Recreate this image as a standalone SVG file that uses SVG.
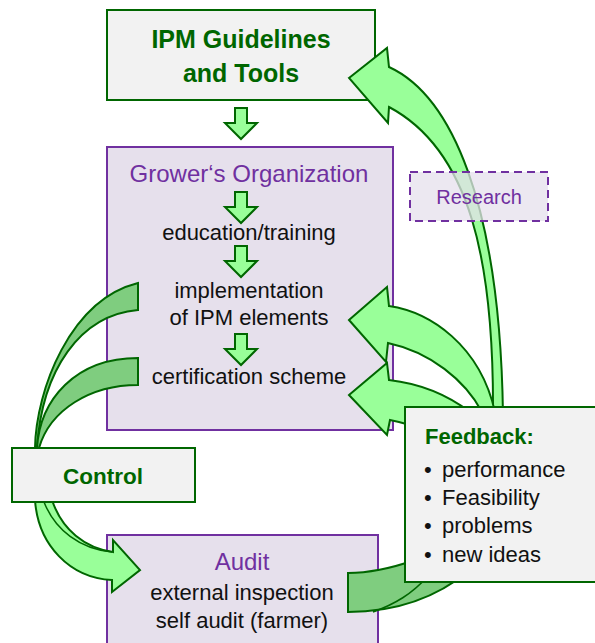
<svg xmlns="http://www.w3.org/2000/svg" width="595" height="643" viewBox="0 0 595 643">
<style>
.gbox{fill:#f2f2f2;stroke:#006600;stroke-width:2}
.pbox{fill:#e6e0ec;stroke:#7030a0;stroke-width:2}
.la{fill:#99ff99;stroke:#006600;stroke-width:2;stroke-linejoin:miter}
.ma{fill:#7fcd7f;stroke:#006600;stroke-width:2}
.ln{fill:none;stroke:#006600;stroke-width:1.5}
text{font-family:"Liberation Sans",Arial,sans-serif}
.gt{fill:#006600;font-weight:bold}
.pt{fill:#7030a0}
.bt{fill:#111;font-size:22px}
</style>
<defs>
<path id="down" class="la" d="M-6,0 H6 V15 H16 L0,31 L-16,15 H-6 Z"/>
</defs>
<g id="growers">
<rect class="pbox" x="107" y="147" width="286" height="283"/>
<text class="pt" x="249" y="182" font-size="24" text-anchor="middle">Grower‘s Organization</text>
<text class="bt" x="249" y="240" text-anchor="middle">education/training</text>
<text class="bt" x="249" y="298" text-anchor="middle">implementation</text>
<text class="bt" x="249" y="325" text-anchor="middle">of IPM elements</text>
<text class="bt" x="249" y="384" text-anchor="middle">certification scheme</text>
</g>
<g id="audit">
<rect class="pbox" x="107" y="535" width="271" height="120"/>
<text class="pt" x="242" y="570" font-size="24" text-anchor="middle">Audit</text>
<text class="bt" x="242" y="600" text-anchor="middle">external inspection</text>
<text class="bt" x="242" y="628" text-anchor="middle">self audit (farmer)</text>
</g>
<g id="ipm">
<rect class="gbox" x="107" y="10" width="268" height="90"/>
<text class="gt" x="241" y="48" font-size="25" text-anchor="middle">IPM Guidelines</text>
<text class="gt" x="241" y="82" font-size="25" text-anchor="middle">and Tools</text>
</g>
<g id="connectors">
<use href="#down" x="241" y="108"/>
<use href="#down" x="241" y="192"/>
<use href="#down" x="241" y="246"/>
<use href="#down" x="241" y="334"/>
<path class="ma" d="M35,448 C36,390 70,300 138,283 L138,310 C80,315 42,370 37,448 Z"/>
<path class="ma" d="M37,448 C40,400 75,358 138,358 L138,385 C90,385 50,410 39,448 Z"/>
<path class="la" d="M349,78 L387,48 L389,67 C450,95 500,200 503,415 L493,415 C494,260 470,150 389,107 L388,123 Z"/>
<path class="la" d="M349,320 L387,287 L389,306 C430,312 480,345 495,412 L482,412 C465,380 430,352 388,343 L386,362 Z"/>
<path class="la" d="M349,395 L387,363 L389,380 C415,383 445,393 470,412 L470,425 L410,425 C400,422 395,421 390,420 L387,435 Z"/>
<path class="la" d="M35,500 C38,545 70,578 112,580 L112,592 L140,570 L113,540 L113,552 C85,548 62,530 52,500 Z"/>
<path class="ln" d="M44,502 C55,530 80,549 112,552"/>
<path class="ma" d="M348,573 C372,573 392,568 415,560 L475,545 L470,570 C440,595 400,612 348,612 Z"/>
<path class="ln" d="M373,612 C395,604 412,594 428,576"/>
</g>
<g id="control">
<rect class="gbox" x="12" y="448" width="183" height="54"/>
<text class="gt" x="103" y="484" font-size="22.5" text-anchor="middle">Control</text>
</g>
<g id="research">
<rect x="410" y="172" width="138" height="49" fill="#e6e0ec" fill-opacity="0.75" stroke="#7030a0" stroke-width="2" stroke-dasharray="8,5"/>
<text class="pt" x="479" y="204" font-size="20" text-anchor="middle">Research</text>
</g>
<g id="feedback">
<rect class="gbox" x="405" y="407" width="200" height="175"/>
<text class="gt" x="425" y="444" font-size="22">Feedback:</text>
<text class="bt" x="424" y="477">•</text>
<text class="bt" x="442" y="477">performance</text>
<text class="bt" x="424" y="505">•</text>
<text class="bt" x="442" y="505">Feasibility</text>
<text class="bt" x="424" y="533">•</text>
<text class="bt" x="442" y="533">problems</text>
<text class="bt" x="424" y="562">•</text>
<text class="bt" x="442" y="562">new ideas</text>
</g>
</svg>
